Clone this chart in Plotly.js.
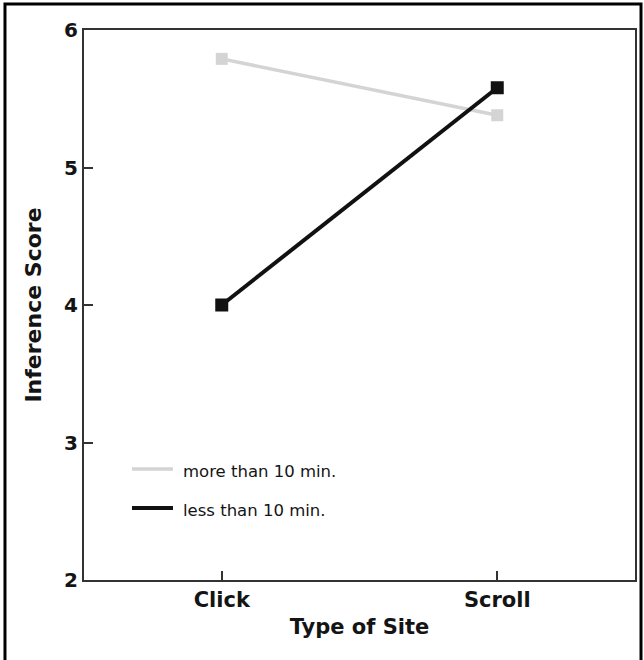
<!DOCTYPE html>
<html>
<head>
<meta charset="utf-8">
<script src="https://cdn.plot.ly/plotly-3.0.1.min.js"></script>
<style>html,body{margin:0;padding:0;background:#fff;}#chart{width:644px;height:660px;}</style>
</head>
<body>
<div id="chart"></div>
<script>
const categories = ["Click", "Scroll"];
const moreThan10 = [5.79, 5.38];
const lessThan10 = [4.0, 5.58];
const seriesNames = ["more than 10 min.", "less than 10 min."];
const yTicks = [2, 3, 4, 5, 6];

const FONT = "'DejaVu Sans', sans-serif";
const grayCol = "#d4d4d4";
const blackCol = "#111111";
const textCol = "#141414";

const traces = [
  {x: categories, y: moreThan10, name: seriesNames[0], type: "scatter", mode: "lines+markers",
   line: {color: grayCol, width: 3.5}, marker: {symbol: "square", size: 12, color: grayCol}, showlegend: false},
  {x: categories, y: lessThan10, name: seriesNames[1], type: "scatter", mode: "lines+markers",
   line: {color: blackCol, width: 4}, marker: {symbol: "square", size: 13, color: blackCol}, showlegend: false}
];

const layout = {
  width: 644, height: 660,
  margin: {l: 84, r: 9, t: 30, b: 80},
  paper_bgcolor: "#ffffff", plot_bgcolor: "#ffffff",
  font: {family: FONT, color: textCol},
  xaxis: {
    type: "category", range: [-0.5, 1.5], showgrid: false, zeroline: false,
    showline: true, linecolor: "#333", linewidth: 2, mirror: true,
    ticks: "inside", ticklen: 9, tickwidth: 2, tickcolor: "#333",
    tickfont: {family: FONT, size: 21, color: textCol, weight: "bold"},
    title: {text: "Type of Site", font: {family: FONT, size: 21, color: textCol, weight: "bold"}, standoff: 8}
  },
  yaxis: {
    range: [2, 6], tickvals: yTicks, ticktext: yTicks.map(String), showgrid: false, zeroline: false,
    showline: true, linecolor: "#333", linewidth: 2, mirror: true,
    ticks: "inside", ticklen: 9, tickwidth: 2, tickcolor: "#333",
    tickfont: {family: FONT, size: 20, color: textCol, weight: "bold"},
    title: {text: "Inference Score", font: {family: FONT, size: 22, color: textCol, weight: "bold"}, standoff: 16}
  },
  shapes: [
    {type: "rect", xref: "paper", yref: "paper", x0: -0.1434, x1: 1.0109, y0: -0.16, y1: 1.0473,
     line: {color: "#000", width: 3}, fillcolor: "rgba(0,0,0,0)", layer: "above"},
    {type: "line", xref: "paper", yref: "paper", x0: 0.0871, x1: 0.1615, y0: 0.2018, y1: 0.2018,
     line: {color: grayCol, width: 3.5}},
    {type: "line", xref: "paper", yref: "paper", x0: 0.0871, x1: 0.1615, y0: 0.1309, y1: 0.1309,
     line: {color: blackCol, width: 4}}
  ],
  annotations: [
    {xref: "paper", yref: "paper", x: 0.176, y: 0.1965, xanchor: "left", yanchor: "middle", showarrow: false,
     text: seriesNames[0], font: {family: FONT, size: 16.5, color: textCol}},
    {xref: "paper", yref: "paper", x: 0.176, y: 0.1255, xanchor: "left", yanchor: "middle", showarrow: false,
     text: seriesNames[1], font: {family: FONT, size: 16.5, color: textCol}}
  ]
};

Plotly.newPlot("chart", traces, layout, {displayModeBar: false, staticPlot: true});
</script>
</body>
</html>
